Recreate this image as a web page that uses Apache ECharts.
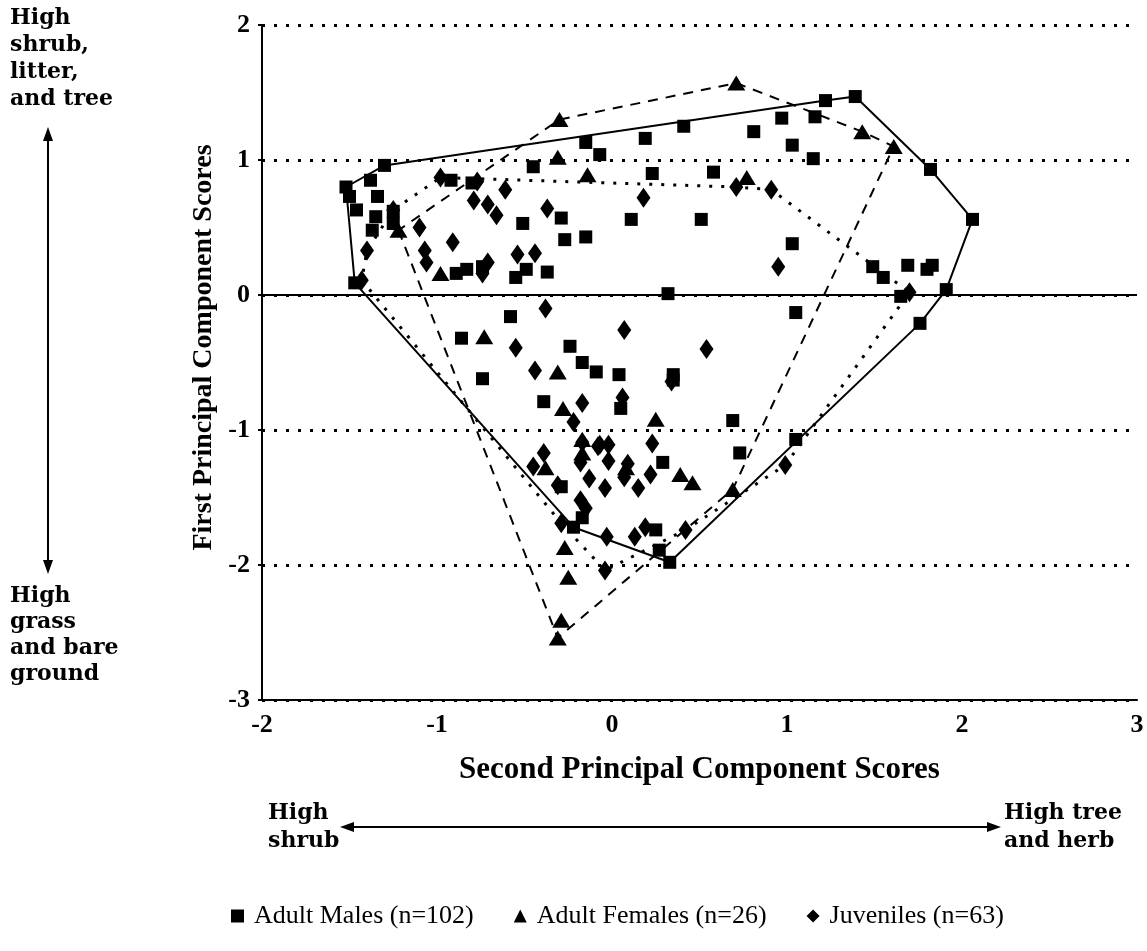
<!DOCTYPE html>
<html><head><meta charset="utf-8">
<script src="https://cdn.jsdelivr.net/npm/echarts@6/dist/echarts.min.js"></script>
<style>html,body{margin:0;padding:0;background:#fff}#c{width:1147px;height:951px}</style>
</head><body><div id="c"></div>
<script>
const seriesNames = ['Adult Males (n=102)', 'Adult Females (n=26)', 'Juveniles (n=63)'];
const xAxisTitle = 'Second Principal Component Scores';
const yAxisTitle = 'First Principal Component Scores';

const adultMales = [
  [-1.52,0.80],[-1.50,0.73],[-1.46,0.63],[-1.38,0.85],[-1.30,0.96],[-1.34,0.73],[-1.35,0.58],
  [-1.25,0.62],[-1.25,0.53],[-1.37,0.48],[-1.47,0.09],
  [-0.89,0.16],[-0.83,0.19],[-0.74,0.21],[-0.92,0.85],[-0.80,0.83],
  [-0.45,0.95],[-0.15,1.13],[-0.07,1.04],[-0.51,0.53],[-0.29,0.57],[-0.27,0.41],[-0.15,0.43],
  [-0.37,0.17],[-0.55,0.13],[-0.49,0.19],
  [0.19,1.16],[0.41,1.25],[0.23,0.90],[0.58,0.91],[0.81,1.21],[0.97,1.31],[1.16,1.32],[1.03,1.11],
  [1.15,1.01],[1.22,1.44],[1.39,1.47],
  [0.11,0.56],[0.51,0.56],[1.03,0.38],[1.49,0.21],[1.55,0.13],[0.32,0.01],
  [1.82,0.93],[2.06,0.56],[1.69,0.22],[1.80,0.19],[1.83,0.22],[1.91,0.04],[1.65,-0.01],[1.76,-0.21],[1.05,-0.13],
  [-0.58,-0.16],[-0.86,-0.32],[-0.74,-0.62],[-0.24,-0.38],[-0.17,-0.50],[-0.09,-0.57],[0.04,-0.59],
  [0.35,-0.59],[-0.39,-0.79],[0.05,-0.84],[0.69,-0.93],[0.73,-1.17],[1.05,-1.07],
  [-0.29,-1.42],[-0.17,-1.65],[-0.22,-1.72],[0.25,-1.74],[0.27,-1.89],[0.33,-1.98],[0.29,-1.24],[0.35,-0.63]
];
const adultFemales = [
  [-1.22,0.48],[-0.98,0.16],[-0.30,1.30],[-0.31,1.02],[-0.14,0.89],[0.71,1.57],[0.77,0.87],[1.43,1.21],[1.61,1.10],
  [-0.73,-0.31],[-0.31,-0.57],[-0.28,-0.84],[-0.17,-1.07],[0.25,-0.92],[-0.38,-1.28],[-0.27,-1.87],[-0.25,-2.09],
  [0.39,-1.33],[0.46,-1.39],[0.69,-1.44],[-0.29,-2.41],[-0.31,-2.54],[-0.17,-1.17],[0.08,-1.28]
];
const juveniles = [
  [-1.40,0.33],[-1.43,0.11],[-0.98,0.87],[-0.77,0.84],[-0.79,0.70],[-0.71,0.67],[-0.66,0.59],[-0.61,0.78],
  [-0.37,0.64],[-0.91,0.39],[-1.07,0.33],[-1.10,0.50],[-1.06,0.24],[-0.54,0.30],[-0.44,0.31],[-0.71,0.24],
  [-0.74,0.16],[0.18,0.72],[0.71,0.80],[0.91,0.78],[0.95,0.21],[1.70,0.02],[-1.25,0.63],
  [-0.38,-0.10],[0.07,-0.26],[0.54,-0.40],[-0.55,-0.39],[-0.44,-0.56],[-0.17,-0.80],[-0.22,-0.94],
  [0.06,-0.76],[0.34,-0.64],[0.23,-1.10],[-0.39,-1.17],[-0.07,-1.11],[-0.02,-1.11],[-0.45,-1.27],
  [-0.17,-1.09],[-0.08,-1.12],[-0.18,-1.24],[-0.02,-1.23],[0.09,-1.25],[-0.13,-1.36],[-0.04,-1.43],
  [0.07,-1.35],[0.15,-1.43],[0.22,-1.33],[-0.31,-1.41],[-0.18,-1.52],[-0.15,-1.58],[-0.29,-1.69],
  [-0.03,-1.79],[0.13,-1.79],[0.19,-1.72],[0.42,-1.74],[-0.04,-2.04],[0.99,-1.26]
];

function convexHull(points) {
  const p = points.map(d => [d[0], d[1]]).sort((a, b) => a[0] - b[0] || a[1] - b[1]);
  const cross = (o, a, b) => (a[0]-o[0])*(b[1]-o[1]) - (a[1]-o[1])*(b[0]-o[0]);
  const lower = [];
  for (const q of p) { while (lower.length >= 2 && cross(lower[lower.length-2], lower[lower.length-1], q) <= 0) lower.pop(); lower.push(q); }
  const upper = [];
  for (let i = p.length - 1; i >= 0; i--) { const q = p[i]; while (upper.length >= 2 && cross(upper[upper.length-2], upper[upper.length-1], q) <= 0) upper.pop(); upper.push(q); }
  upper.pop(); lower.pop();
  const h = lower.concat(upper); h.push(h[0]); return h;
}

const serif = 'Liberation Serif, Times New Roman, serif';
const annoFont = 'bold 22px DejaVu Serif, serif';
const chart = echarts.init(document.getElementById('c'), null, {renderer: 'canvas'});

function hullSeries(name, pts, type, width) {
  return { name: name, type: 'line', data: convexHull(pts), symbol: 'none', silent: true, z: 1,
    animation: false, lineStyle: { color: '#000', width: width, type: type } };
}

chart.setOption({
  animation: false,
  backgroundColor: '#fff',
  grid: { left: 262, right: 10, top: 25, bottom: 251 },
  xAxis: {
    type: 'value', min: -2, max: 3, interval: 1,
    name: xAxisTitle, nameLocation: 'middle', nameGap: 54,
    nameTextStyle: { fontFamily: serif, fontWeight: 'bold', fontSize: 31, color: '#000' },
    axisLine: { onZero: false, lineStyle: { color: '#000', width: 2 } },
    axisTick: { show: false },
    splitLine: { show: false },
    axisLabel: { color: '#000', fontFamily: serif, fontWeight: 'bold', fontSize: 26, margin: 12 }
  },
  yAxis: {
    type: 'value', min: -3, max: 2, interval: 1,
    name: yAxisTitle, nameLocation: 'middle', nameGap: 41,
    nameTextStyle: { fontFamily: serif, fontWeight: 'bold', fontSize: 28, color: '#000', padding: [0, 0, 0, 30] },
    axisLine: { show: true, onZero: false, lineStyle: { color: '#000', width: 2 } },
    axisTick: { show: true, length: 4, lineStyle: { color: '#000', width: 2 } },
    splitLine: { show: true, lineStyle: { color: '#000', width: 3, type: [3, 9] } },
    axisLabel: { color: '#000', fontFamily: serif, fontWeight: 'bold', fontSize: 26, margin: 12 }
  },
  legend: {
    data: [
      { name: seriesNames[0], icon: 'rect' },
      { name: seriesNames[1], icon: 'triangle' },
      { name: seriesNames[2], icon: 'diamond' }
    ],
    left: 226, top: 898, itemGap: 40, itemWidth: 13, itemHeight: 13,
    textStyle: { fontFamily: serif, fontSize: 26, color: '#000', padding: [0, 0, 0, 5] },
    selectedMode: false
  },
  graphic: [
    { type: 'text', left: 10, top: 5, style: { text: 'High\nshrub,\nlitter,\nand tree', font: annoFont, lineHeight: 27, fill: '#000' } },
    { type: 'line', shape: { x1: 48, y1: 136, x2: 48, y2: 562 }, style: { stroke: '#000', lineWidth: 2 } },
    { type: 'polygon', shape: { points: [[48,127],[43,141],[53,141]] }, style: { fill: '#000' } },
    { type: 'polygon', shape: { points: [[48,574],[43,560],[53,560]] }, style: { fill: '#000' } },
    { type: 'text', left: 10, top: 583, style: { text: 'High\ngrass\nand bare\nground', font: annoFont, lineHeight: 26, fill: '#000' } },
    { type: 'text', left: 268, top: 799, style: { text: 'High\nshrub', font: annoFont, lineHeight: 28, fill: '#000' } },
    { type: 'line', shape: { x1: 350, y1: 827, x2: 990, y2: 827 }, style: { stroke: '#000', lineWidth: 2 } },
    { type: 'polygon', shape: { points: [[340,827],[354,822],[354,832]] }, style: { fill: '#000' } },
    { type: 'polygon', shape: { points: [[1001,827],[987,822],[987,832]] }, style: { fill: '#000' } },
    { type: 'text', left: 1004, top: 799, style: { text: 'High tree\nand herb', font: annoFont, lineHeight: 28, fill: '#000' } }
  ],
  series: [
    hullSeries('malesHull', adultMales, 'solid', 2),
    hullSeries('femalesHull', adultFemales, [10, 8], 2),
    hullSeries('juvenilesHull', juveniles, [3, 9], 3),
    { name: seriesNames[0], type: 'scatter', data: adultMales, symbol: 'rect', symbolSize: 13, z: 3,
      itemStyle: { color: '#000', opacity: 1 },
      markLine: { silent: true, symbol: 'none', label: { show: false }, animation: false,
        lineStyle: { type: 'solid', color: '#000', width: 2 }, data: [{ yAxis: 0 }] } },
    { name: seriesNames[1], type: 'scatter', data: adultFemales, symbol: 'triangle', symbolSize: [18, 15], z: 3,
      itemStyle: { color: '#000', opacity: 1 } },
    { name: seriesNames[2], type: 'scatter', data: juveniles, symbol: 'diamond', symbolSize: [14, 20], z: 3,
      itemStyle: { color: '#000', opacity: 1 } }
  ]
});
</script></body></html>
